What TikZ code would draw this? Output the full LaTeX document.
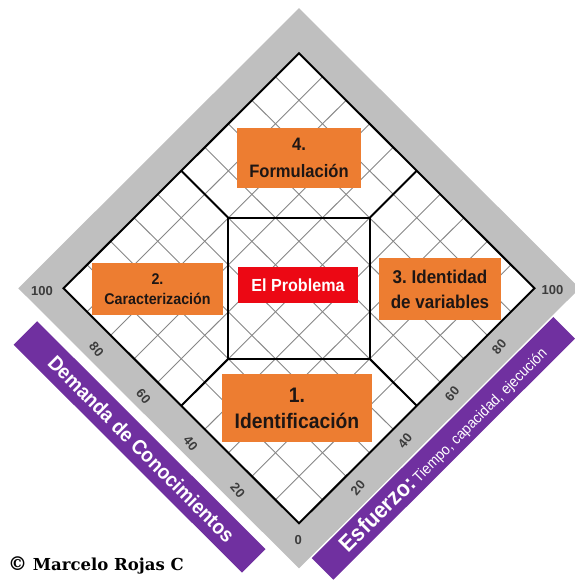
\documentclass[tikz,border=0pt]{standalone}
\usepackage{fontspec}
\setmainfont{Liberation Sans}
\newfontfamily\boxfont[FakeStretch=0.92]{Liberation Sans}
\newfontfamily\signfont{DejaVu Serif}
\frenchspacing

\definecolor{boxorange}{RGB}{237,125,49}
\definecolor{probred}{RGB}{236,8,20}
\definecolor{bandpurple}{RGB}{112,48,160}
\definecolor{bandgray}{RGB}{191,191,191}
\definecolor{gridgray}{RGB}{135,135,135}
\definecolor{numgray}{RGB}{60,60,60}
\definecolor{boxtext}{RGB}{30,22,20}

\begin{document}
\begin{tikzpicture}[x=1pt, y=-1pt,
    stage/.style={fill=boxorange, inner sep=0pt, align=center, text=boxtext},
    gridline/.style={draw=gridgray, line width=0.9pt},
    frame/.style={draw=black, line width=2pt, line join=miter},
    axisnum/.style={text=numgray, font=\fontsize{13}{13}\selectfont\bfseries, inner sep=0pt},
    bandtext/.style={text=white, inner sep=0pt}]

    % Fix the page to the size of the reference
    \useasboundingbox (0,0) rectangle (574,583);

    % Diamond in its own axes: u runs from the bottom to the right corner,
    % v from the bottom to the left corner, both from 0 to 100
    \begin{scope}[shift={(299,523.3)}, x={(2.355pt,2.35pt)}, y={(-2.355pt,2.35pt)}]

    % Gray frame round the diamond
    \fill[bandgray] (-9.6,-9.6) -- (109.6,-9.6) -- (109.6,109.6) -- (-9.6,109.6) -- cycle;
    \fill[white] (0,0) -- (100,0) -- (100,100) -- (0,100) -- cycle;

    % Purple bands along the two lower sides
    \fill[bandpurple] (-22.6,1.6) -- (-12.6,1.6) -- (-12.6,98.6) -- (-22.6,98.6) -- cycle;
    \fill[bandpurple] (-4.7,-19.3) -- (97.9,-19.3) -- (97.9,-10.1) -- (-4.7,-10.1) -- cycle;

    % Grid every 10 units
    \foreach \g in {10,20,...,90} {
        \draw[gridline] (\g,0) -- (\g,100);
        \draw[gridline] (0,\g) -- (100,\g);
    }

    % Outline of the diamond
    \draw[frame] (0,0) -- (100,0) -- (100,100) -- (0,100) -- cycle;

    % Central square and the four lines out to the sides
    \coordinate (SQb) at (50,20);
    \coordinate (SQr) at (80,50);
    \coordinate (SQt) at (50,80);
    \coordinate (SQl) at (20,50);
    \draw[frame] (SQb) -- (SQr) -- (SQt) -- (SQl) -- cycle;
    \draw[frame] (SQb) -- (50,0);
    \draw[frame] (SQr) -- (100,50);
    \draw[frame] (SQt) -- (50,100);
    \draw[frame] (SQl) -- (0,50);

    % Scale numbers on both lower sides
    \foreach \n in {20,40,60,80} {
        \node[axisnum, rotate=-50] (dem\n) at (-6,\n) {\n};
        \node[axisnum, rotate=50] (esf\n) at (\n,-5) {\n};
    }

    % Texts of the purple bands
    \node[bandtext, rotate=-45, font=\boxfont\bfseries\fontsize{20.5}{20.5}\selectfont] (demanda) at (-17.6,49.3) {Demanda de Conocimientos};
    \node[bandtext, rotate=45] (esfuerzo) at (46.5,-14.9)
        {{\boxfont\bfseries\fontsize{23}{23}\selectfont Esfuerzo:} {\boxfont\fontsize{15}{15}\selectfont Tiempo, capacidad, ejecución}};

    \end{scope}

    % End values of the scales
    \node[axisnum] (dem100) at (42,291) {100};
    \node[axisnum] (esf100) at (552.5,290) {100};
    \node[axisnum] (zero) at (298.3,540) {0};

    % The five boxes
    \node[stage, minimum width=124pt, minimum height=60pt, font=\boxfont\bfseries\fontsize{18}{27}\selectfont] (formula) at (299,158) {4.\\Formulación};
    \node[stage, minimum width=131pt, minimum height=52pt, font=\boxfont\bfseries\fontsize{15.5}{20}\selectfont] (caract) at (157.5,289) {2.\\Caracterización};
    \node[fill=probred, text=white, inner sep=0pt, minimum width=120pt, minimum height=36pt, font=\boxfont\bfseries\fontsize{17.5}{17.5}\selectfont] (problema) at (298,285) {El Problema};
    \node[stage, minimum width=122pt, minimum height=62pt, font=\boxfont\bfseries\fontsize{18.5}{25}\selectfont] (variables) at (440,289) {3. Identidad\\de variables};
    \node[stage, minimum width=150pt, minimum height=68pt, font=\boxfont\bfseries\fontsize{21}{26}\selectfont] (ident) at (297,408) {1.\\Identificación};

    % Signature
    \node[anchor=base west, inner sep=0pt, font=\signfont\bfseries\fontsize{16.5}{16.5}\selectfont] (firma) at (8,570) {{\fontsize{19}{19}\selectfont ©} Marcelo Rojas C};

\end{tikzpicture}
\end{document}
